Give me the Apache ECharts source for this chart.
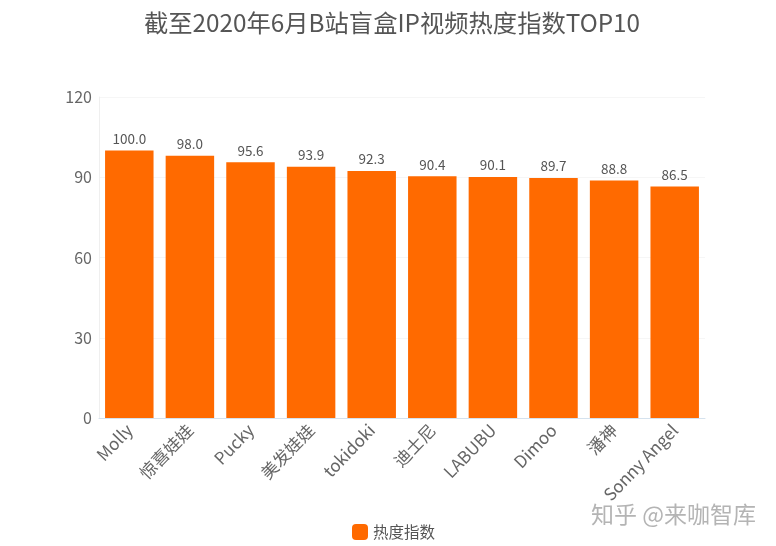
<!DOCTYPE html>
<html>
<head>
<meta charset="utf-8">
<style>
html, body { margin: 0; padding: 0; background: #fff; }
#main { width: 776px; height: 546px; }
</style>
<script src="https://cdn.jsdelivr.net/npm/echarts@6/dist/echarts.min.js"></script>
</head>
<body>
<div id="main"></div>
<script>
var fontName = '"Noto Sans CJK SC", "Open Sans", sans-serif';
var categories = ['Molly', '惊喜娃娃', 'Pucky', '美发娃娃', 'tokidoki', '迪士尼', 'LABUBU', 'Dimoo', '潘神', 'Sonny Angel'];
var heatValues = [100.0, 98.0, 95.6, 93.9, 92.3, 90.4, 90.1, 89.7, 88.8, 86.5];
var seriesName = '热度指数';

var myChart = echarts.init(document.getElementById('main'));
var option = {
	animation: false,
	textStyle: { fontFamily: fontName },
	title: {
		text: '截至2020年6月B站盲盒IP视频热度指数TOP10',
		left: 387,
		top: 6,
		textAlign: 'center',
		textStyle: { color: '#555', fontSize: 24.3, fontWeight: 'normal', fontFamily: fontName }
	},
	legend: {
		data: [seriesName],
		top: 519,
		left: 347,
		itemWidth: 16,
		itemHeight: 16,
		itemGap: 4,
		textStyle: { color: '#555', fontSize: 15.5, fontFamily: fontName }
	},
	grid: { left: 99, right: 71, top: 97, bottom: 128 },
	xAxis: {
		type: 'category',
		data: categories,
		axisTick: { alignWithLabel: true, length: 4, lineStyle: { color: '#e3e3e3' } },
		axisLine: { lineStyle: { color: '#d5e2ee' } },
		axisLabel: { color: '#666', fontSize: 17, rotate: 46, interval: 0, margin: 9, fontFamily: fontName }
	},
	yAxis: {
		type: 'value',
		min: 0,
		max: 120,
		interval: 30,
		axisLine: { show: true, lineStyle: { color: '#efefef' } },
		axisTick: { show: false },
		splitLine: { lineStyle: { color: '#f6f6f6' } },
		axisLabel: { color: '#666', fontSize: 16, margin: 7, fontFamily: fontName }
	},
	series: [{
		name: seriesName,
		type: 'bar',
		data: heatValues,
		barWidth: '80%',
		itemStyle: { color: '#ff6a00' },
		label: {
			show: true,
			position: 'top',
			distance: 5,
			color: '#555',
			fontSize: 13.5,
			fontFamily: fontName,
			formatter: function(p) {
				return p.value.toFixed(1);
			}
		}
	}],
	graphic: [{
		type: 'text',
		left: 591,
		top: 503,
		style: { text: '知乎 @来咖智库', fill: '#b4b4b4', fontSize: 23, fontFamily: fontName }
	}]
};
myChart.setOption(option);
</script>
</body>
</html>
